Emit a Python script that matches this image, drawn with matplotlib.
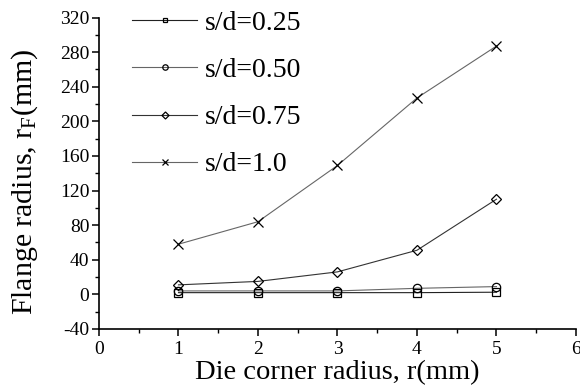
import numpy as np
import matplotlib
matplotlib.use("Agg")
import matplotlib.pyplot as plt
from matplotlib.ticker import MultipleLocator

plt.rcParams['font.family'] = ['Liberation Serif', 'DejaVu Serif']
plt.rcParams['mathtext.fontset'] = 'custom'
plt.rcParams['mathtext.rm'] = 'Liberation Serif'
plt.rcParams['mathtext.it'] = 'Liberation Serif:italic'
plt.rcParams['axes.unicode_minus'] = False

# data
r = [1, 2, 3, 4, 5]
sd025 = [2, 2, 2, 2, 2.5]
sd050 = [4, 4, 4, 7, 9]
sd075 = [11, 15, 26, 51, 110]
sd100 = [58, 84, 149, 227, 287]
labels = ["s/d=0.25", "s/d=0.50", "s/d=0.75", "s/d=1.0"]

fig = plt.figure(figsize=(5.8, 3.91), dpi=100)
ax = fig.add_axes([0.1707, 0.1586, 0.8223, 0.7966])

ax.plot(r, sd025, color="#222222", lw=0.8, marker="s", ms=5.5, mfc="none", mec="black", mew=0.9, label=labels[0])
ax.plot(r, sd050, color="#666666", lw=0.8, marker="o", ms=6, mfc="none", mec="black", mew=0.9, label=labels[1])
ax.plot(r, sd075, color="#333333", lw=0.8, marker="D", ms=5.5, mfc="none", mec="black", mew=0.9, label=labels[2])
ax.plot(r, sd100, color="#666666", lw=0.8, marker="x", ms=7, mfc="none", mec="black", mew=0.9, label=labels[3])

ax.set_xlim(0, 6)
ax.set_ylim(-40, 320)
ax.xaxis.set_major_locator(MultipleLocator(1))
ax.xaxis.set_minor_locator(MultipleLocator(0.5))
ax.yaxis.set_major_locator(MultipleLocator(40))
ax.yaxis.set_minor_locator(MultipleLocator(20))

for s in ["top", "right"]:
    ax.spines[s].set_visible(False)
for s in ["left", "bottom"]:
    ax.spines[s].set_linewidth(1.2)

ax.tick_params(which="major", direction="out", length=5, width=1.1, labelsize=14, pad=2)
ax.tick_params(axis="x", which="major", pad=4)
ax.tick_params(which="minor", direction="out", length=3, width=1.0)

ax.set_xlabel("Die corner radius, r(mm)", fontsize=20.5, labelpad=1)
ax.set_ylabel(r"Flange radius, r$_\mathrm{F}$(mm)", fontsize=21.5)
ax.yaxis.set_label_coords(-0.124, 0.472)

ax.legend(loc="upper left", bbox_to_anchor=(0.046, 1.058), frameon=False, fontsize=20,
          handlelength=2.34, handletextpad=0.29, labelspacing=0.78, borderaxespad=0,
          markerscale=0.65)

fig.savefig("out.png", dpi=100)
